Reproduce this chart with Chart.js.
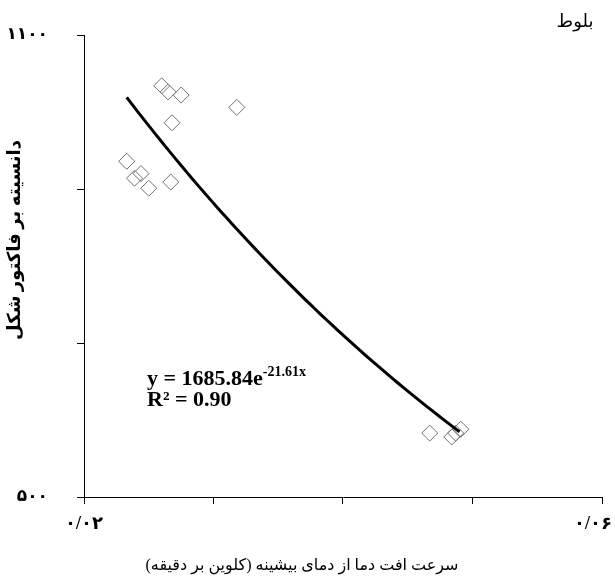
<!DOCTYPE html>
<html>
<head>
<meta charset="utf-8">
<script src="https://cdn.jsdelivr.net/npm/chart.js@4"></script>
<style>
  body { margin: 0; background: #fff; }
  #nemoodar { display: block; }
</style>
</head>
<body>
<canvas id="nemoodar" width="615" height="580"></canvas>
<script>
// نقاط اندازه گیری (سرعت افت دما، دانسیته بر فاکتور شکل)
const sorat = [0.0260, 0.0265, 0.0275, 0.0318, 0.0268, 0.0233, 0.0239, 0.0244, 0.0250, 0.0267, 0.0467, 0.0484, 0.0487, 0.0491];
const danesite = [1034, 1026, 1022, 1006, 986, 936, 914, 920, 901, 909, 583, 578, 583, 588];

// معادله خط روند نمایی
const trendA = 1685.84;
const trendB = -21.61;
const trendAz = 0.0233;
const trendTa = 0.0490;

const xTickLabels = ['۰/۰۲', '', '', '', '۰/۰۶\u00a0\u00a0\u00a0\u00a0'];
const yTickLabels = ['۵۰۰', '', '', '۱۱۰۰'];

const onvanX = 'سرعت افت دما از دمای بیشینه (کلوین بر دقیقه)';
const onvanY = 'دانسیته بر فاکتور شکل';
const gooneh = 'بلوط';

const serif = "'Liberation Serif', 'DejaVu Sans', serif";

const noghat = sorat.map((x, i) => ({ x: x, y: danesite[i] }));

const khatRavand = [];
for (let k = 0; k <= 60; k++) {
    const x = trendAz + (trendTa - trendAz) * k / 60;
    khatRavand.push({ x: x, y: trendA * Math.exp(trendB * x) });
}

const matnha = {
    id: 'matnha',
    afterDraw(chart) {
        const ctx = chart.ctx;
        ctx.save();
        ctx.fillStyle = '#000';

        ctx.font = '18px ' + serif;
        ctx.textAlign = 'center';
        ctx.textBaseline = 'middle';
        ctx.fillText(gooneh, 575, 22);

        ctx.font = '16px ' + serif;
        ctx.fillText(onvanX, 302, 566);

        ctx.save();
        ctx.translate(15, 240);
        ctx.rotate(-Math.PI / 2);
        ctx.font = 'bold 18px ' + serif;
        ctx.fillText(onvanY, 0, 0);
        ctx.restore();

        // معادله
        ctx.textAlign = 'left';
        ctx.textBaseline = 'alphabetic';
        ctx.font = 'bold 22px ' + serif;
        const aval = 'y = ' + trendA.toFixed(2) + 'e';
        ctx.fillText(aval, 147, 385);
        const w = ctx.measureText(aval).width;
        ctx.font = 'bold 14px ' + serif;
        ctx.fillText(trendB.toFixed(2) + 'x', 147 + w, 376);
        ctx.font = 'bold 22px ' + serif;
        ctx.fillText('R² = 0.90', 147, 406);
        ctx.restore();
    }
};

const ctx = document.getElementById('nemoodar').getContext('2d');
new Chart(ctx, {
    type: 'scatter',
    data: {
        datasets: [
            {
                label: 'trend',
                data: khatRavand,
                showLine: true,
                borderColor: '#000',
                borderWidth: 3,
                pointRadius: 0,
                tension: 0,
                order: 0,
            },
            {
                label: 'data',
                data: noghat,
                pointStyle: 'rectRot',
                pointRadius: 8,
                pointBorderWidth: 1,
                pointBorderColor: '#707070',
                pointBackgroundColor: 'rgba(255,255,255,0)',
                order: 1,
            },
        ],
    },
    plugins: [matnha],
    options: {
        responsive: false,
        animation: false,
        devicePixelRatio: 1,
        layout: { padding: { top: 35, right: 13, left: 0, bottom: 0 } },
        plugins: {
            legend: { display: false },
            tooltip: { enabled: false },
        },
        scales: {
            x: {
                type: 'linear',
                min: 0.02,
                max: 0.06,
                afterFit(scale) {
                    scale.height = 83;
                    scale.paddingLeft = 0;
                    scale.paddingRight = 0;
                },
                ticks: {
                    stepSize: 0.01,
                    padding: 10,
                    maxRotation: 0,
                    autoSkip: false,
                    color: '#000',
                    font: { family: serif, size: 18, weight: 'bold' },
                    callback: (v, i) => xTickLabels[i],
                },
                grid: { drawOnChartArea: false, tickLength: 7, color: '#000' },
                border: { color: '#000', width: 1 },
            },
            y: {
                type: 'linear',
                min: 500,
                max: 1100,
                afterFit(scale) {
                    scale.width = 84;
                    scale.paddingTop = 0;
                    scale.paddingBottom = 0;
                },
                ticks: {
                    stepSize: 200,
                    padding: 29,
                    autoSkip: false,
                    color: '#000',
                    font: { family: serif, size: 17, weight: 'bold' },
                    callback: (v, i) => yTickLabels[i],
                },
                grid: { drawOnChartArea: false, tickLength: 7, color: '#000' },
                border: { color: '#000', width: 1 },
            },
        },
    },
});
</script>
</body>
</html>
